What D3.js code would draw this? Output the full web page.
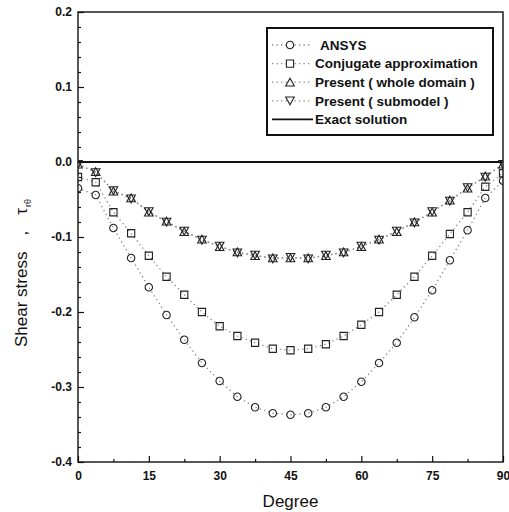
<!DOCTYPE html>
<html>
<head>
<meta charset="utf-8">
<script src="https://cdn.jsdelivr.net/npm/d3@7/dist/d3.min.js"></script>
<style>
  html, body { margin: 0; padding: 0; background: #fff; }
  svg { display: block; font-family: "Liberation Sans", Arial, sans-serif; }
</style>
</head>
<body>
<div id="chart"></div>
<script>
// sample angles (degree)
var degrees = [0, 3.75, 7.5, 11.25, 15, 18.75, 22.5, 26.25, 30, 33.75, 37.5, 41.25, 45,
  48.75, 52.5, 56.25, 60, 63.75, 67.5, 71.25, 75, 78.75, 82.5, 86.25, 90];

// shear stress
var ansys = [-0.035, -0.044, -0.088, -0.128, -0.167, -0.204, -0.237, -0.268, -0.292, -0.313, -0.327, -0.335, -0.337,
  -0.335, -0.327, -0.313, -0.293, -0.268, -0.241, -0.207, -0.171, -0.131, -0.091, -0.048, -0.025];
var conjugate = [-0.020, -0.027, -0.067, -0.095, -0.125, -0.153, -0.177, -0.200, -0.219, -0.232, -0.241, -0.249, -0.251,
  -0.249, -0.243, -0.232, -0.217, -0.200, -0.177, -0.153, -0.125, -0.096, -0.067, -0.033, -0.015];
var presentWhole = [-0.003, -0.013, -0.039, -0.048, -0.067, -0.079, -0.093, -0.103, -0.113, -0.120, -0.125, -0.128, -0.128,
  -0.128, -0.125, -0.120, -0.113, -0.103, -0.093, -0.080, -0.067, -0.051, -0.035, -0.019, -0.003];
var presentSub = [-0.003, -0.014, -0.038, -0.049, -0.066, -0.080, -0.092, -0.104, -0.112, -0.121, -0.124, -0.129, -0.127,
  -0.129, -0.124, -0.121, -0.112, -0.104, -0.092, -0.081, -0.066, -0.052, -0.034, -0.020, -0.003];
var exactDegrees = [0, 90];
var exactValues = [0, 0];

var xTicks = [0, 15, 30, 45, 60, 75, 90];
var xMinor = [7.5, 22.5, 37.5, 52.5, 67.5, 82.5];
var yTicks = [-0.4, -0.3, -0.2, -0.1, 0.0, 0.1, 0.2];
var yTickLabels = ["-0.4", "-0.3", "-0.2", "-0.1", "0.0", "0.1", "0.2"];
var yMinor = [-0.38, -0.36, -0.34, -0.32, -0.28, -0.26, -0.24, -0.22, -0.18, -0.16, -0.14, -0.12,
  -0.08, -0.06, -0.04, -0.02, 0.02, 0.04, 0.06, 0.08, 0.12, 0.14, 0.16, 0.18];

var seriesNames = ["ANSYS", "Conjugate approximation", "Present ( whole domain )", "Present ( submodel )", "Exact solution"];

var width = 509, height = 512;
var plotLeft = 78, plotRight = 503, plotTop = 12, plotBottom = 462;

var svg = d3.select("#chart").append("svg")
  .attr("width", width)
  .attr("height", height);

var x = d3.scaleLinear().domain([0, 90]).range([plotLeft, plotRight]);
var y = d3.scaleLinear().domain([-0.4, 0.2]).range([plotBottom, plotTop]);

svg.append("clipPath").attr("id", "plotClip")
  .append("rect")
  .attr("x", plotLeft).attr("y", plotTop)
  .attr("width", plotRight - plotLeft).attr("height", plotBottom - plotTop);

// axes, ticks pointing inwards
svg.append("g")
  .attr("transform", "translate(" + plotLeft + ",0)")
  .call(d3.axisLeft(y).tickValues(yTicks).tickSize(-6).tickPadding(6)
    .tickFormat(function (d, i) { return yTickLabels[i]; }));
svg.append("g")
  .attr("transform", "translate(" + plotLeft + ",0)")
  .call(d3.axisLeft(y).tickValues(yMinor).tickSize(-3).tickFormat(""));

svg.append("g")
  .attr("transform", "translate(0," + plotBottom + ")")
  .call(d3.axisBottom(x).tickValues(xTicks).tickSize(-6).tickPadding(9));
svg.append("g")
  .attr("transform", "translate(0," + plotBottom + ")")
  .call(d3.axisBottom(x).tickValues(xMinor).tickSize(-3).tickFormat(""));

svg.selectAll(".domain").remove();
svg.selectAll(".tick line").attr("stroke", "#111").attr("stroke-width", 1.2);
svg.selectAll(".tick text")
  .attr("fill", "#111")
  .style("font-size", "12px")
  .style("font-weight", "bold");

// frame
svg.append("rect")
  .attr("x", plotLeft).attr("y", plotTop)
  .attr("width", plotRight - plotLeft).attr("height", plotBottom - plotTop)
  .attr("fill", "none")
  .attr("stroke", "#111")
  .attr("stroke-width", 1.4);

var plot = svg.append("g").attr("clip-path", "url(#plotClip)");

// exact solution
plot.append("path")
  .datum(exactDegrees.map(function (d, i) { return [d, exactValues[i]]; }))
  .attr("fill", "none")
  .attr("stroke", "#111")
  .attr("stroke-width", 2)
  .attr("d", d3.line().x(function (d) { return x(d[0]); }).y(function (d) { return y(d[1]); }));

// marker outlines, triangles centred on their bounding box
var markerPath = {
  circle: "M3.7,0A3.7,3.7 0 1,1 -3.7,0A3.7,3.7 0 1,1 3.7,0Z",
  square: "M-3.6,-3.6H3.6V3.6H-3.6Z",
  up: "M0,-4L4.3,3.8H-4.3Z",
  down: "M0,4L4.3,-3.8H-4.3Z"
};

var series = [
  { values: ansys, shape: "circle" },
  { values: conjugate, shape: "square" },
  { values: presentWhole, shape: "up" },
  { values: presentSub, shape: "down" }
];

var line = d3.line()
  .x(function (d) { return x(d[0]); })
  .y(function (d) { return y(d[1]); });

series.forEach(function (s) {
  var pts = degrees.map(function (d, i) { return [d, s.values[i]]; });
  plot.append("path")
    .datum(pts)
    .attr("fill", "none")
    .attr("stroke", "#888")
    .attr("stroke-width", 1.3)
    .attr("stroke-dasharray", "1.3,3.2")
    .attr("d", line);
});

series.forEach(function (s) {
  var pts = degrees.map(function (d, i) { return [d, s.values[i]]; });
  plot.selectAll(null)
    .data(pts)
    .enter().append("path")
    .attr("transform", function (d) { return "translate(" + x(d[0]) + "," + y(d[1]) + ")"; })
    .attr("d", markerPath[s.shape])
    .attr("fill", "none")
    .attr("stroke", "#222")
    .attr("stroke-width", 1.1);
});

// legend
var legend = svg.append("g");
legend.append("rect")
  .attr("x", 267).attr("y", 28)
  .attr("width", 226).attr("height", 107)
  .attr("fill", "#fff")
  .attr("stroke", "#111")
  .attr("stroke-width", 2);

var legendShapes = ["circle", "square", "up", "down", null];
seriesNames.forEach(function (name, i) {
  var ly = 45 + i * 18.6;
  var row = legend.append("g").attr("transform", "translate(0," + ly + ")");
  if (legendShapes[i]) {
    row.append("line")
      .attr("x1", 272).attr("x2", 310)
      .attr("stroke", "#888").attr("stroke-width", 1.3)
      .attr("stroke-dasharray", "1.3,3.2");
    row.append("path")
      .attr("transform", "translate(290,0)")
      .attr("d", markerPath[legendShapes[i]])
      .attr("fill", "#fff")
      .attr("stroke", "#222")
      .attr("stroke-width", 1.1);
  } else {
    row.append("line")
      .attr("x1", 272).attr("x2", 313)
      .attr("stroke", "#111").attr("stroke-width", 1.6);
  }
  row.append("text")
    .attr("x", i === 0 ? 320 : 315)
    .attr("dy", "0.35em")
    .attr("fill", "#111")
    .style("font-size", "13.5px")
    .style("font-weight", "bold")
    .text(name);
});

// axis titles
svg.append("text")
  .attr("x", (plotLeft + plotRight) / 2)
  .attr("y", 507)
  .attr("text-anchor", "middle")
  .attr("fill", "#111")
  .style("font-size", "17px")
  .text("Degree");

var yTitle = svg.append("text")
  .attr("transform", "translate(27,347) rotate(-90)")
  .attr("fill", "#111")
  .style("font-size", "17px");
yTitle.append("tspan").text("Shear stress");
yTitle.append("tspan").attr("dx", 16).text(",");
yTitle.append("tspan").attr("dx", 16).text("\u03c4");
yTitle.append("tspan").attr("dx", 1).attr("dy", 4).style("font-size", "9px").text("r\u03b8");
</script>
</body>
</html>
